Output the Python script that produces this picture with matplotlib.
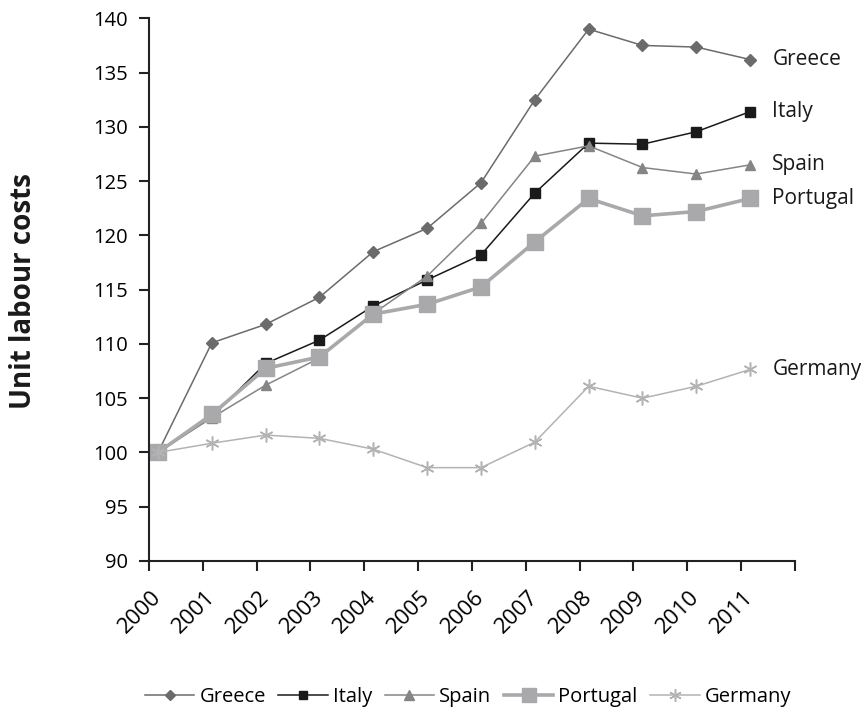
import matplotlib
matplotlib.use("Agg")
import matplotlib.pyplot as plt
import numpy as np

plt.rcParams['font.family'] = ['Open Sans', 'DejaVu Sans']

years = ['2000', '2001', '2002', '2003', '2004', '2005', '2006',
         '2007', '2008', '2009', '2010', '2011']
greece = [100, 110.1, 111.8, 114.3, 118.5, 120.65, 124.85, 132.5, 139.0, 137.5, 137.35, 136.2]
italy = [100, 103.3, 108.2, 110.35, 113.5, 115.9, 118.2, 123.9, 128.5, 128.4, 129.55, 131.4]
spain = [100, 103.2, 106.2, 108.7, 112.8, 116.25, 121.1, 127.3, 128.25, 126.25, 125.65, 126.5]
portugal = [100, 103.5, 107.75, 108.8, 112.75, 113.65, 115.25, 119.4, 123.4, 121.8, 122.2, 123.4]
germany = [100, 100.85, 101.6, 101.3, 100.3, 98.6, 98.6, 100.95, 106.1, 105.0, 106.1, 107.65]

series = [
    ('Greece', greece, dict(color='#6b6b6b', marker='D', ms=6, lw=1.1, mec='#6b6b6b')),
    ('Italy', italy, dict(color='#1a1a1a', marker='s', ms=6.5, lw=1.1, mec='#1a1a1a')),
    ('Spain', spain, dict(color='#858585', marker='^', ms=7.5, lw=1.1, mec='#858585')),
    ('Portugal', portugal, dict(color='#a9a9ab', marker='s', ms=11.5, lw=2.6, mec='#a9a9ab')),
    ('Germany', germany, dict(color='#b3b3b5', marker=(6, 2, 0), ms=10, lw=1.1, mew=1.1)),
]

fig = plt.figure(figsize=(8.62, 7.10), dpi=100)
ax = fig.add_axes([149/862, 1-561/710, (795-149)/862, (561-18.3)/710])

x = np.arange(len(years))
for name, vals, st in series:
    ax.plot(x, vals, label=name, clip_on=False, **st)
    ax.annotate(name, (x[-1], vals[-1]), xytext=(16, 0), textcoords='offset points',
                va='center', ha='left', fontsize=15, color='#1a1a1a')

off = 0.167
ax.set_xlim(-off, len(years) - off)
ax.set_ylim(90, 140)
ax.set_yticks(np.arange(90, 141, 5))
ax.set_xticks(np.arange(len(years) + 1) - off)
ax.set_xticklabels([])
ax.set_xticks(x, minor=True)
ax.set_xticklabels(years, minor=True, rotation=45, ha='right', va='center',
                   rotation_mode='anchor', fontsize=16)
ax.tick_params(axis='x', which='minor', length=0, pad=24)
ax.tick_params(axis='x', which='major', length=7, width=1.5, direction='out', color='#222222')
ax.tick_params(axis='y', length=7, width=1.5, direction='out', color='#222222', labelsize=14.5, pad=8)
for s in ['top', 'right']:
    ax.spines[s].set_visible(False)
for s in ['left', 'bottom']:
    ax.spines[s].set_linewidth(1.5)
    ax.spines[s].set_color('#222222')

fig.text(24/862, 1-291/710, 'Unit labour costs', rotation=90, fontsize=20, fontweight='bold',
         va='center', ha='center', color='#1a1a1a')

handles, labels = ax.get_legend_handles_labels()
fig.legend(handles, labels, loc='center', bbox_to_anchor=(468/862, 1-697/710), ncol=5,
           frameon=False, fontsize=14.5, handlelength=2.45, handletextpad=0.25, columnspacing=0.63,
           markerscale=0.9)

fig.savefig('out.png', dpi=100)
